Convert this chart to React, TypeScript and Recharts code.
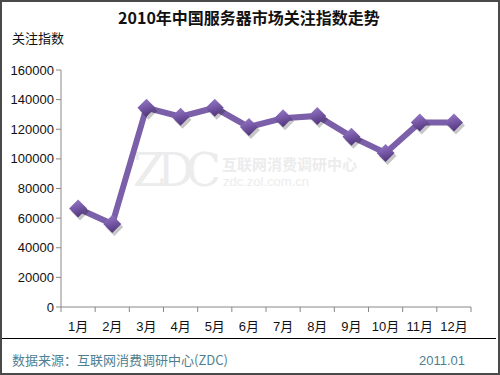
import React from 'react';
import { LineChart, Line, XAxis, YAxis } from 'recharts';

const months = ['1月', '2月', '3月', '4月', '5月', '6月', '7月', '8月', '9月', '10月', '11月', '12月'];
const attention = [66500, 56000, 134500, 128500, 134500, 121500, 127500, 129000, 115000, 104000, 124500, 124500];
const yTicks = [0, 20000, 40000, 60000, 80000, 100000, 120000, 140000, 160000];

// numeric x so the tick marks sit between the months, like Excel
const data = months.map((m, i) => ({ x: i + 0.5, month: m, value: attention[i] }));
const xTicks = months.map((_, i) => i).concat(months.length);

const FONT = 'Arial, "Liberation Sans", "Noto Sans CJK SC", sans-serif';
const CJK = '"Noto Sans CJK SC", "Liberation Sans", sans-serif';

const MonthTick = (props: any) => {
  const { x, y, payload, width } = props;
  const i = payload.value;
  if (i >= months.length) return null;
  const half = width / months.length / 2;
  return (
    <text x={x + half} y={y + 17} textAnchor="middle" fontSize={13} fill="#111" fontFamily={FONT}>
      {months[i]}
    </text>
  );
};

const Diamond = (props: any) => {
  const { cx, cy, index } = props;
  if (cx == null || cy == null) return null;
  const r = 9;
  const id = `dg-${index}`;
  const pts = (dx: number, dy: number) =>
    `${cx + dx},${cy + dy - r} ${cx + dx + r},${cy + dy} ${cx + dx},${cy + dy + r} ${cx + dx - r},${cy + dy}`;
  return (
    <g key={id}>
      <defs>
        <linearGradient id={id} x1="0" y1="0" x2="0.3" y2="1">
          <stop offset="0%" stopColor="#9a7fcc" />
          <stop offset="50%" stopColor="#7a5cab" />
          <stop offset="100%" stopColor="#55397f" />
        </linearGradient>
      </defs>
      <polygon points={pts(2, 3)} fill="rgba(0,0,0,0.22)" />
      <polygon points={pts(0, 0)} fill={`url(#${id})`} />
    </g>
  );
};

export default function App() {
  return (
    <div
      style={{
        position: 'absolute',
        left: 0,
        top: 0,
        width: 500,
        height: 375,
        boxSizing: 'border-box',
        border: '2px solid #4a4a4a',
        background: '#fff',
        overflow: 'hidden',
      }}
    >
      <svg width={500} height={375} style={{ position: 'absolute', left: -2, top: -2 }}>
        <text x={249} y={24} textAnchor="middle" fontSize={16} fontWeight="bold" fill="#111" fontFamily={CJK}>
          2010年中国服务器市场关注指数走势
        </text>
        <text x={12} y={43} fontSize={13} fill="#111" fontFamily={CJK}>
          关注指数
        </text>
        {/* faint watermark */}
        <text x={133} y={186} fontSize={46} fill="#ececec" fontFamily='"DejaVu Serif", serif' textLength={88}>
          ZDC
        </text>
        <text x={222} y={170} fontSize={15} fill="#ececec" fontWeight="bold" fontFamily={CJK}>
          互联网消费调研中心
        </text>
        <text x={223} y={186} fontSize={13} fill="#ececec" fontFamily={FONT}>
          zdc.zol.com.cn
        </text>
        <line x1={0} y1={338.5} x2={496} y2={338.5} stroke="#000" strokeWidth={1} />
        <text x={12} y={365} fontSize={13} fill="#4f7f92" fontFamily={CJK}>
          数据来源：互联网消费调研中心(ZDC)
        </text>
        <text x={465} y={365} textAnchor="end" fontSize={13} fill="#4f7f92" fontFamily={FONT}>
          2011.01
        </text>
      </svg>
      <div style={{ position: 'absolute', left: -2, top: -2 }}>
        <LineChart width={500} height={375} data={data} margin={{ top: 70, right: 29, bottom: 38, left: 6 }}>
          <XAxis
            dataKey="x"
            type="number"
            domain={[0, months.length]}
            ticks={xTicks}
            interval={0}
            height={30}
            tick={<MonthTick />}
            tickSize={5}
            axisLine={{ stroke: '#888' }}
            tickLine={{ stroke: '#888' }}
          />
          <YAxis
            domain={[0, 160000]}
            ticks={yTicks}
            interval={0}
            width={55}
            tickSize={5}
            axisLine={{ stroke: '#888' }}
            tickLine={{ stroke: '#888' }}
            tick={{ fontSize: 13, fill: '#111', fontFamily: FONT }}
          />
          <Line
            dataKey="value"
            type="linear"
            stroke="#7b5fa8"
            strokeWidth={6}
            dot={<Diamond />}
            activeDot={false}
            isAnimationActive={false}
          />
        </LineChart>
      </div>
    </div>
  );
}
